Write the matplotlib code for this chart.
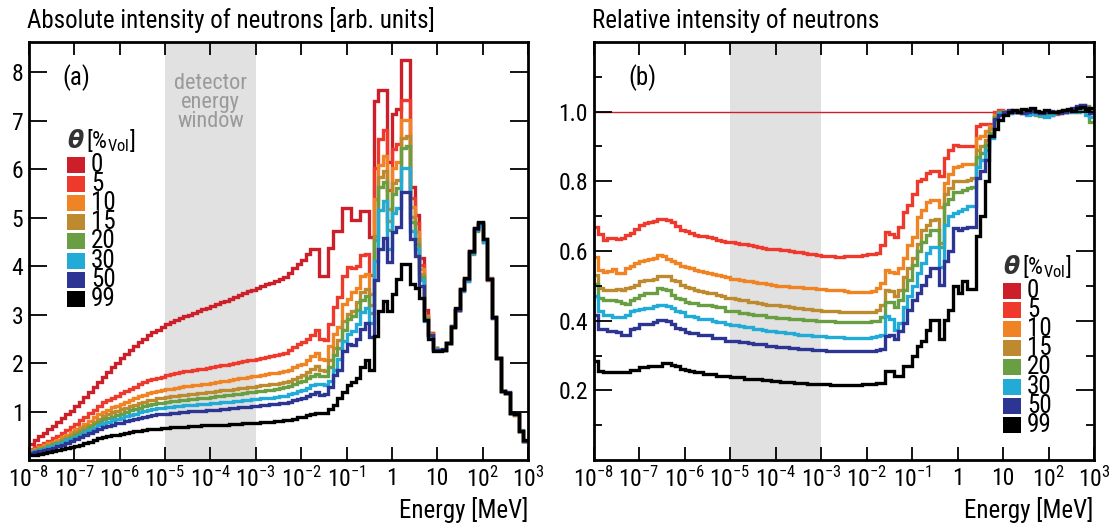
import numpy as np
import matplotlib
matplotlib.use('Agg')
import matplotlib.pyplot as plt
from matplotlib import font_manager
from matplotlib.patches import Rectangle
from matplotlib.ticker import FixedLocator, NullLocator, FuncFormatter

# narrow sans font if we have one
installed = {f.name for f in font_manager.fontManager.ttflist}
FONT = 'DejaVu Sans'
for fam in ['Roboto Condensed', 'Fira Sans Condensed', 'Asap Condensed', 'Roboto']:
    if fam in installed:
        FONT = fam
        break
plt.rcParams['font.family'] = [FONT, 'DejaVu Sans']
plt.rcParams['mathtext.fontset'] = 'custom'
plt.rcParams['mathtext.rm'] = FONT
plt.rcParams['mathtext.it'] = FONT + ':italic'
plt.rcParams['mathtext.bf'] = FONT + ':bold'

# energy grid: 10 bins per decade from 1e-8 to 1e3 MeV
LOG_E_MIN, LOG_E_MAX, N_BINS = -8, 3, 110

theta_labels = ['0', '5', '10', '15', '20', '30', '50', '99']
colors = ['#cd1f2a', '#ee3a2c', '#f08323', '#bd8a30', '#6a9e43', '#22abd7', '#2c3592', '#000000']

# absolute flux for theta = 0 %
flux_0 = [
    0.34, 0.42, 0.49, 0.56, 0.63, 0.70, 0.78, 0.86, 0.94, 1.02,
    1.11, 1.20, 1.30, 1.40, 1.50, 1.61, 1.72, 1.82, 1.92, 2.01,
    2.10, 2.19, 2.27, 2.35, 2.43, 2.50, 2.57, 2.63, 2.69, 2.75,
    2.80, 2.84, 2.88, 2.92, 2.96, 3.00, 3.03, 3.07, 3.11, 3.14,
    3.17, 3.21, 3.25, 3.28, 3.32, 3.36, 3.40, 3.44, 3.48, 3.51,
    3.55, 3.59, 3.63, 3.66, 3.70, 3.74, 3.78, 3.86, 3.96, 4.05,
    4.12, 4.24, 4.35, 4.35, 3.80, 3.80, 4.37, 4.72, 4.72, 5.20,
    5.20, 4.95, 4.95, 5.13, 5.13, 4.60, 7.40, 7.64, 7.64, 6.15,
    7.13, 7.23, 8.24, 8.24, 5.63, 5.06, 4.17, 3.10, 2.62, 2.30,
    2.27, 2.27, 2.41, 2.75, 3.10, 3.51, 3.72, 4.30, 4.79, 4.89,
    4.55, 3.75, 2.95, 2.10, 1.42, 1.38, 0.96, 0.93, 0.60, 0.40,
]

# flux relative to theta = 0 %
rel_05 = [
    0.670, 0.650, 0.632, 0.636, 0.636, 0.634, 0.638, 0.645, 0.652, 0.664,
    0.676, 0.679, 0.682, 0.687, 0.693, 0.691, 0.690, 0.684, 0.671, 0.660,
    0.657, 0.652, 0.647, 0.644, 0.642, 0.640, 0.638, 0.633, 0.628, 0.625,
    0.625, 0.623, 0.621, 0.621, 0.617, 0.615, 0.612, 0.609, 0.606, 0.605,
    0.605, 0.604, 0.602, 0.600, 0.598, 0.596, 0.594, 0.592, 0.590, 0.588,
    0.587, 0.586, 0.585, 0.584, 0.584, 0.585, 0.586, 0.587, 0.587, 0.589,
    0.590, 0.590, 0.593, 0.617, 0.655, 0.650, 0.641, 0.668, 0.712, 0.731,
    0.765, 0.801, 0.808, 0.825, 0.830, 0.830, 0.815, 0.867, 0.890, 0.905,
    0.900, 0.900, 0.900, 0.902, 0.960, 0.965, 0.965, 0.965, 1.000, 1.005,
    1.000, 0.998, 1.003, 1.000, 0.995, 1.005, 1.000, 0.995, 0.992, 0.995,
    0.990, 0.992, 0.995, 0.998, 1.002, 1.008, 1.005, 1.010, 1.012, 1.000,
]
rel_10 = [
    0.584, 0.546, 0.541, 0.544, 0.548, 0.538, 0.538, 0.551, 0.557, 0.565,
    0.572, 0.574, 0.577, 0.581, 0.589, 0.586, 0.576, 0.570, 0.565, 0.557,
    0.553, 0.550, 0.546, 0.542, 0.539, 0.536, 0.534, 0.532, 0.527, 0.524,
    0.521, 0.519, 0.517, 0.515, 0.513, 0.511, 0.509, 0.507, 0.504, 0.502,
    0.500, 0.500, 0.499, 0.498, 0.497, 0.496, 0.495, 0.494, 0.493, 0.492,
    0.490, 0.489, 0.488, 0.488, 0.487, 0.485, 0.483, 0.482, 0.482, 0.482,
    0.482, 0.484, 0.493, 0.508, 0.546, 0.540, 0.536, 0.550, 0.579, 0.617,
    0.640, 0.698, 0.717, 0.740, 0.746, 0.746, 0.727, 0.795, 0.820, 0.841,
    0.845, 0.850, 0.850, 0.850, 0.925, 0.930, 0.945, 0.960, 0.990, 1.000,
    1.002, 0.998, 1.000, 1.005, 0.998, 1.003, 1.008, 1.000, 0.995, 0.990,
    0.992, 0.995, 0.998, 1.000, 1.003, 1.005, 1.000, 1.012, 1.008, 1.005,
]
rel_15 = [
    0.530, 0.493, 0.489, 0.488, 0.489, 0.490, 0.489, 0.493, 0.498, 0.503,
    0.513, 0.517, 0.517, 0.519, 0.527, 0.529, 0.527, 0.517, 0.513, 0.503,
    0.498, 0.493, 0.489, 0.486, 0.483, 0.479, 0.478, 0.474, 0.472, 0.465,
    0.464, 0.463, 0.460, 0.459, 0.455, 0.454, 0.450, 0.449, 0.446, 0.445,
    0.444, 0.443, 0.441, 0.439, 0.437, 0.435, 0.434, 0.433, 0.432, 0.431,
    0.429, 0.428, 0.427, 0.427, 0.426, 0.425, 0.424, 0.424, 0.424, 0.425,
    0.425, 0.426, 0.430, 0.445, 0.489, 0.484, 0.470, 0.489, 0.524, 0.550,
    0.580, 0.620, 0.660, 0.675, 0.689, 0.693, 0.624, 0.765, 0.780, 0.800,
    0.800, 0.800, 0.805, 0.810, 0.890, 0.900, 0.920, 0.950, 0.985, 1.000,
    0.998, 1.000, 1.003, 0.998, 1.000, 1.005, 1.000, 0.998, 0.992, 0.995,
    0.990, 0.995, 1.000, 1.002, 0.998, 1.003, 1.008, 1.005, 1.010, 1.005,
]
rel_20 = [
    0.505, 0.465, 0.460, 0.459, 0.458, 0.457, 0.450, 0.449, 0.460, 0.465,
    0.474, 0.479, 0.479, 0.480, 0.493, 0.491, 0.487, 0.474, 0.465, 0.463,
    0.453, 0.452, 0.451, 0.446, 0.445, 0.444, 0.441, 0.440, 0.438, 0.429,
    0.428, 0.427, 0.422, 0.421, 0.420, 0.417, 0.416, 0.415, 0.411, 0.410,
    0.409, 0.408, 0.407, 0.406, 0.405, 0.404, 0.403, 0.402, 0.401, 0.400,
    0.399, 0.398, 0.398, 0.397, 0.397, 0.396, 0.396, 0.396, 0.396, 0.397,
    0.397, 0.398, 0.400, 0.410, 0.455, 0.455, 0.440, 0.460, 0.489, 0.517,
    0.560, 0.600, 0.625, 0.645, 0.660, 0.660, 0.612, 0.736, 0.750, 0.770,
    0.770, 0.775, 0.780, 0.785, 0.870, 0.880, 0.905, 0.940, 0.985, 1.000,
    1.000, 0.995, 1.000, 1.002, 0.998, 1.000, 0.995, 0.990, 0.988, 0.992,
    0.995, 0.998, 1.000, 1.005, 1.003, 1.008, 1.012, 1.020, 1.015, 0.970,
]
rel_30 = [
    0.470, 0.427, 0.417, 0.417, 0.411, 0.410, 0.410, 0.417, 0.429, 0.430,
    0.434, 0.435, 0.437, 0.441, 0.446, 0.445, 0.443, 0.436, 0.427, 0.425,
    0.413, 0.412, 0.411, 0.406, 0.405, 0.404, 0.398, 0.397, 0.396, 0.389,
    0.388, 0.387, 0.384, 0.383, 0.382, 0.376, 0.375, 0.374, 0.370, 0.369,
    0.368, 0.367, 0.366, 0.364, 0.362, 0.360, 0.359, 0.358, 0.357, 0.356,
    0.355, 0.354, 0.353, 0.352, 0.352, 0.351, 0.350, 0.350, 0.350, 0.350,
    0.351, 0.352, 0.355, 0.360, 0.413, 0.405, 0.374, 0.394, 0.440, 0.470,
    0.500, 0.536, 0.565, 0.594, 0.612, 0.612, 0.555, 0.674, 0.700, 0.708,
    0.715, 0.720, 0.730, 0.730, 0.840, 0.860, 0.890, 0.925, 0.975, 0.995,
    1.000, 0.995, 0.998, 1.000, 0.995, 0.990, 0.992, 0.995, 0.990, 0.985,
    0.990, 0.995, 0.998, 1.000, 1.002, 0.998, 1.000, 1.010, 0.990, 0.985,
]
rel_50 = [
    0.417, 0.376, 0.375, 0.370, 0.369, 0.368, 0.360, 0.360, 0.376, 0.378,
    0.389, 0.390, 0.391, 0.395, 0.403, 0.402, 0.398, 0.389, 0.379, 0.377,
    0.367, 0.366, 0.365, 0.360, 0.359, 0.358, 0.351, 0.350, 0.349, 0.343,
    0.342, 0.341, 0.339, 0.338, 0.337, 0.334, 0.333, 0.332, 0.327, 0.326,
    0.325, 0.324, 0.323, 0.322, 0.321, 0.320, 0.319, 0.318, 0.317, 0.316,
    0.315, 0.314, 0.314, 0.313, 0.313, 0.312, 0.312, 0.312, 0.312, 0.312,
    0.312, 0.313, 0.315, 0.320, 0.355, 0.360, 0.346, 0.370, 0.394, 0.432,
    0.460, 0.479, 0.503, 0.527, 0.550, 0.550, 0.503, 0.570, 0.600, 0.665,
    0.660, 0.665, 0.670, 0.670, 0.810, 0.830, 0.860, 0.930, 0.980, 0.990,
    1.000, 1.005, 0.998, 1.002, 0.995, 1.000, 1.003, 0.998, 0.995, 1.000,
    1.002, 0.998, 0.995, 1.000, 1.005, 1.010, 1.015, 1.020, 1.010, 0.995,
]
rel_99 = [
    0.284, 0.255, 0.254, 0.252, 0.252, 0.253, 0.253, 0.254, 0.258, 0.259,
    0.267, 0.266, 0.270, 0.270, 0.271, 0.279, 0.279, 0.274, 0.270, 0.260,
    0.259, 0.255, 0.254, 0.253, 0.248, 0.247, 0.246, 0.241, 0.241, 0.240,
    0.239, 0.238, 0.238, 0.233, 0.233, 0.232, 0.232, 0.231, 0.230, 0.227,
    0.226, 0.225, 0.224, 0.223, 0.222, 0.221, 0.220, 0.219, 0.219, 0.218,
    0.217, 0.217, 0.216, 0.216, 0.215, 0.215, 0.216, 0.216, 0.216, 0.217,
    0.217, 0.218, 0.220, 0.222, 0.255, 0.255, 0.241, 0.241, 0.270, 0.270,
    0.298, 0.327, 0.341, 0.374, 0.403, 0.403, 0.346, 0.403, 0.430, 0.500,
    0.480, 0.515, 0.490, 0.490, 0.643, 0.700, 0.800, 0.930, 0.950, 0.975,
    0.990, 1.000, 1.005, 1.000, 1.008, 1.005, 1.010, 1.003, 1.000, 1.005,
    1.000, 0.998, 1.003, 1.005, 1.008, 1.003, 1.010, 1.012, 1.008, 1.010,
]

edges = np.logspace(LOG_E_MIN, LOG_E_MAX, N_BINS + 1)
flux0 = np.array(flux_0)
rel = [flux0 / flux0] + [np.array(r) for r in
                         (rel_05, rel_10, rel_15, rel_20, rel_30, rel_50, rel_99)]
absolute = [r * flux0 for r in rel]

W, H = 1110, 526
fig = plt.figure(figsize=(W / 100, H / 100), dpi=100)
axL = fig.add_axes([29 / W, 66 / H, 499 / W, 418 / H])
axR = fig.add_axes([593.5 / W, 66 / H, 500.5 / W, 418 / H])

for ax in (axL, axR):
    ax.axvspan(1e-5, 1e-3, color='#e1e1e1', lw=0, zorder=0)

for vals, col in zip(absolute, colors):
    axL.stairs(vals, edges, baseline=None, color=col, lw=2.4)
for k, (vals, col) in enumerate(zip(rel, colors)):
    axR.stairs(vals, edges, baseline=None, color=col, lw=1.0 if k == 0 else 2.4)


def elabel(x, pos):
    e = int(round(np.log10(x)))
    if e == 0:
        return '1'
    if e == 1:
        return '10'
    return r'$\mathregular{10^{%d}}$' % e


for ax in (axL, axR):
    ax.set_xscale('log')
    ax.set_xlim(10.0 ** LOG_E_MIN, 10.0 ** LOG_E_MAX)
    ax.xaxis.set_major_locator(FixedLocator(10.0 ** np.arange(LOG_E_MIN, LOG_E_MAX + 1)))
    ax.xaxis.set_minor_locator(NullLocator())
    ax.xaxis.set_major_formatter(FuncFormatter(elabel))
    ax.tick_params(axis='both', which='both', direction='in', top=True, right=True,
                   labelsize=17, width=1.3)
    ax.tick_params(axis='x', which='major', length=9.5, pad=5)
    ax.tick_params(axis='y', which='major', length=13, pad=4)
    for sp in ax.spines.values():
        sp.set_linewidth(2)

axL.set_ylim(0, 8.62)
axL.yaxis.set_major_locator(FixedLocator(np.arange(1, 9)))
axL.yaxis.set_major_formatter(FuncFormatter(lambda v, p: '%d' % v))

axR.set_ylim(0, 1.2)
axR.yaxis.set_major_locator(FixedLocator([0.2, 0.4, 0.6, 0.8, 1.0]))
axR.yaxis.set_minor_locator(FixedLocator([0.1, 0.3, 0.5, 0.7, 0.9, 1.1]))
axR.yaxis.set_major_formatter(FuncFormatter(lambda v, p: '%.1f' % v))
axR.tick_params(axis='y', which='minor', length=6)

# titles and axis labels
fig.text(27 / W, 1 - 28 / H, 'Absolute intensity of neutrons [arb. units]',
         fontsize=18, ha='left', va='baseline')
fig.text(592 / W, 1 - 28 / H, 'Relative intensity of neutrons',
         fontsize=18, ha='left', va='baseline')
fig.text(528 / W, 1 - 518 / H, 'Energy [MeV]', fontsize=18, ha='right', va='baseline')
fig.text(1093 / W, 1 - 518 / H, 'Energy [MeV]', fontsize=18, ha='right', va='baseline')

axL.text(0.094, 0.914, '(a)', transform=axL.transAxes, fontsize=18, ha='center', va='center')
axR.text(0.097, 0.914, '(b)', transform=axR.transAxes, fontsize=18, ha='center', va='center')

axL.text(1e-4, 0.925, 'detector\nenergy\nwindow', transform=axL.get_xaxis_transform(),
         fontsize=16, color='#9a9a9a', ha='center', va='top', linespacing=0.85)


def draw_legend(ax, x0, y_title, y_first, step, ax_w):
    ax.text(x0, y_title, '\u03b8', transform=ax.transAxes, fontsize=17,
            family='DejaVu Sans', fontweight='bold', fontstyle='italic',
            color='#333333', ha='left', va='center')
    ax.text(x0 + 19 / ax_w, y_title, r'[%$_{\mathregular{Vol}}$]', transform=ax.transAxes,
            fontsize=17, ha='left', va='center')
    for k, (lab, col) in enumerate(zip(theta_labels, colors)):
        yc = y_first - k * step
        ax.add_patch(Rectangle((x0, yc - 8 / 418), 18 / ax_w, 16 / 418,
                               transform=ax.transAxes, color=col, lw=0, zorder=5))
        ax.text(x0 + 24 / ax_w, yc, lab, transform=ax.transAxes, fontsize=18,
                ha='left', va='center', zorder=5)


draw_legend(axL, (67 - 29) / 499, (460 - 141) / 418, (460 - 165) / 418, 19.1 / 418, 499)
draw_legend(axR, (1003 - 593.5) / 500.5, (460 - 267) / 418, (460 - 290.5) / 418, 19.2 / 418, 500.5)

fig.savefig('out.png', dpi=100)
